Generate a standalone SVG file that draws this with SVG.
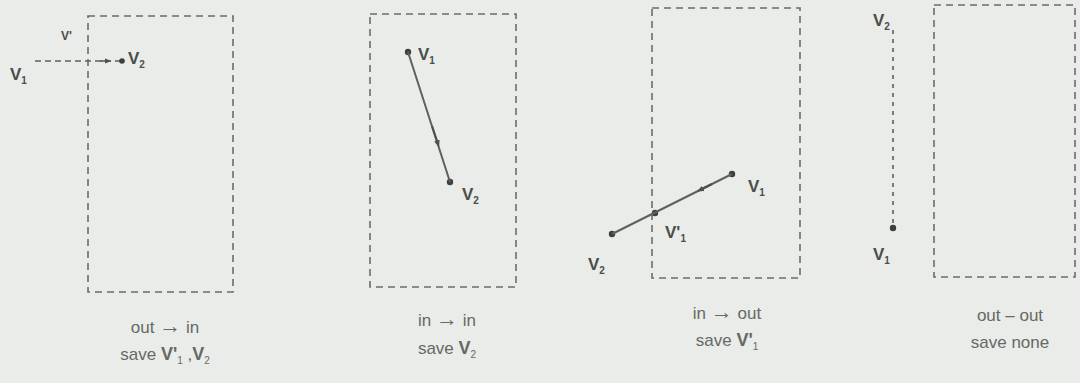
<svg xmlns="http://www.w3.org/2000/svg" width="1080" height="383" viewBox="0 0 1080 383">
<defs>
<style>
.box{fill:none;stroke:#6a6d6a;stroke-width:1.6;stroke-dasharray:7 5}
.edge{fill:none;stroke:#5d605d;stroke-width:2}
.dot{fill:#3d403d}
.lbl{font-family:"Liberation Sans",Arial,sans-serif;font-size:17px;fill:#4a4d4a;font-weight:bold}
.sub{font-size:10px}
.pr{font-size:12px}
.cap{font-family:"Liberation Sans",Arial,sans-serif;font-size:17px;fill:#666966;text-anchor:middle}
.capv{font-weight:bold;font-size:18px}
.ar{font-size:22px}
</style>
<marker id="arr" viewBox="0 0 10 10" refX="5" refY="5" markerWidth="7" markerHeight="7" orient="auto" markerUnits="userSpaceOnUse">
<path d="M0,1 L10,5 L0,9 z" fill="#4d504d"/>
</marker>
</defs>
<rect width="1080" height="383" fill="#e9ece8"/>

<g id="panel1">
<rect class="box" x="88" y="16" width="145" height="276"/>
<text class="lbl" x="10" y="80">V<tspan class="sub" dy="4">1</tspan></text>
<text class="lbl" x="61" y="40" style="font-size:12px">V'</text>
<text class="lbl" x="128" y="64">V<tspan class="sub" dy="4">2</tspan></text>
<text class="cap" x="165" y="333">out <tspan class="ar">→</tspan> in</text>
<text class="cap" x="165" y="360">save <tspan class="capv">V'</tspan><tspan class="sub" dy="4">1</tspan><tspan dy="-4"> ,</tspan><tspan class="capv">V</tspan><tspan class="sub" dy="4">2</tspan></text>
</g>

<g id="panel2">
<rect class="box" x="370" y="14" width="146" height="273"/>
<circle class="dot" cx="408" cy="52" r="3.2"/>
<circle class="dot" cx="450" cy="182" r="3.2"/>
<text class="lbl" x="418" y="60">V<tspan class="sub" dy="4">1</tspan></text>
<text class="lbl" x="462" y="200">V<tspan class="sub" dy="4">2</tspan></text>
<text class="cap" x="447" y="326">in <tspan class="ar">→</tspan> in</text>
<text class="cap" x="447" y="354">save <tspan class="capv">V</tspan><tspan class="sub" dy="4">2</tspan></text>
</g>

<g id="panel3">
<rect class="box" x="652" y="8" width="148" height="270"/>
<circle class="dot" cx="732" cy="174" r="3.2"/>
<circle class="dot" cx="655" cy="213" r="3.2"/>
<circle class="dot" cx="612" cy="234" r="3.2"/>
<text class="lbl" x="748" y="192">V<tspan class="sub" dy="4">1</tspan></text>
<text class="lbl" x="665" y="238">V'<tspan class="sub" dy="4">1</tspan></text>
<text class="lbl" x="588" y="270">V<tspan class="sub" dy="4">2</tspan></text>
<text class="cap" x="727" y="319">in <tspan class="ar">→</tspan> out</text>
<text class="cap" x="727" y="346">save <tspan class="capv">V'</tspan><tspan class="sub" dy="4">1</tspan></text>
</g>

<g id="panel4">
<rect class="box" x="934" y="5" width="141" height="272"/>
<circle class="dot" cx="893" cy="228" r="3.2"/>
<text class="lbl" x="873" y="26">V<tspan class="sub" dy="4">2</tspan></text>
<text class="lbl" x="873" y="260">V<tspan class="sub" dy="4">1</tspan></text>
<text class="cap" x="1010" y="321">out – out</text>
<text class="cap" x="1010" y="348">save none</text>
</g>

<g id="connectors">
<line class="edge" x1="35" y1="61" x2="122" y2="61" style="stroke-dasharray:6 4;stroke-width:1.5"/>
<path d="M100,61 L108,61" fill="none" stroke="#4d504d" stroke-width="1.5" marker-end="url(#arr)"/>
<circle class="dot" cx="122" cy="61" r="2.8"/>
<line class="edge" x1="408" y1="52" x2="450" y2="182"/>
<path d="M432,126 L438,144" fill="none" stroke="#4d504d" stroke-width="2" marker-end="url(#arr)"/>
<line class="edge" x1="732" y1="174" x2="612" y2="234"/>
<path d="M712,184 L700,190" fill="none" stroke="#4d504d" stroke-width="2" marker-end="url(#arr)"/>
<line class="edge" x1="893" y1="30" x2="893" y2="228" style="stroke-dasharray:4 5;stroke-width:1.6"/>
</g>
</svg>
